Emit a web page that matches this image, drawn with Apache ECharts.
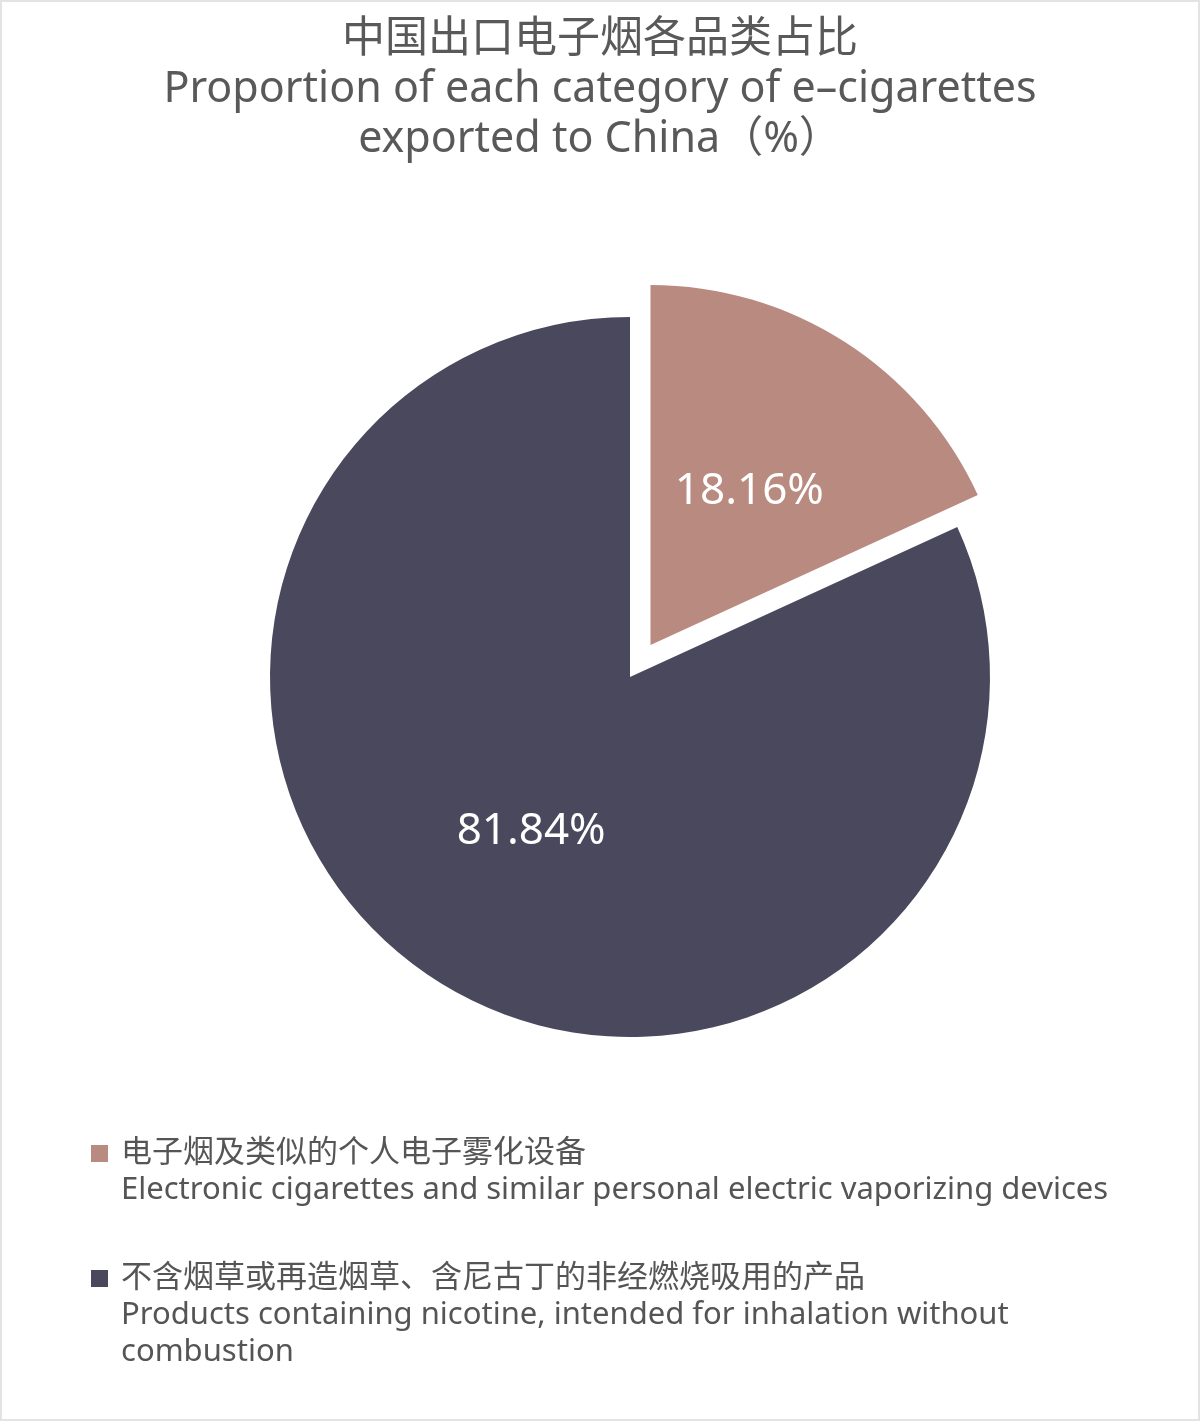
<!DOCTYPE html>
<html>
<head>
<meta charset="utf-8">
<script src="https://cdn.jsdelivr.net/npm/echarts@6/dist/echarts.min.js"></script>
<style>
    html, body { margin: 0; padding: 0; background: #fff; }
    #frame { width: 1200px; height: 1421px; box-sizing: border-box; border: 2px solid #e3e3e3; }
    #myEchart { width: 100%; height: 100%; }
</style>
</head>
<body>
<div id="frame"><div id="myEchart"></div></div>
<script>
var categoriesCn = ['电子烟及类似的个人电子雾化设备', '不含烟草或再造烟草、含尼古丁的非经燃烧吸用的产品'];
var categoriesEn = ['Electronic cigarettes and similar personal electric vaporizing devices',
    'Products containing nicotine, intended for inhalation without\ncombustion'];
var shares = [18.16, 81.84];
var colors = ['#b98a80', '#4a485c'];

var FONT = '"Noto Sans", "Noto Sans CJK SC", sans-serif';

(function() {
    var myChart = echarts.init(document.getElementById('myEchart'));

    var names = [];
    var pieData = [];
    for (var i = 0; i < shares.length; i++) {
        names[i] = categoriesCn[i] + '\n' + categoriesEn[i];
        pieData.push({
            name: names[i],
            value: shares[i],
            selected: i == 0,
            itemStyle: { color: colors[i] }
        });
    }

    // legend text is centred on the icon; pad with blank lines on top so
    // the chinese line ends up beside the square
    function legendFor(idx, top) {
        return {
            data: [{ name: names[idx], icon: 'rect' }],
            orient: 'vertical',
            left: 89,
            top: top,
            padding: 0,
            itemWidth: 17,
            itemHeight: 17,
            selectedMode: false,
            formatter: function(name) {
                var below = name.split('\n').length - 1;
                var pad = '';
                for (var k = 0; k < below; k++) pad += '\n';
                return pad + name;
            },
            textStyle: {
                fontFamily: FONT,
                fontSize: 31,
                lineHeight: 37,
                color: '#555',
                padding: [0, 0, 0, 8]
            }
        };
    }

    myChart.setOption({
        animation: false,
        title: {
            text: '中国出口电子烟各品类占比\nProportion of each category of e–cigarettes\nexported to China（%）',
            left: 'center',
            top: 8,
            textStyle: {
                fontFamily: FONT,
                fontSize: 43,
                lineHeight: 50,
                fontWeight: 'normal',
                color: '#595959'
            }
        },
        legend: [legendFor(0, 1096), legendFor(1, 1184)],
        series: [{
            type: 'pie',
            center: [628, 675],
            radius: 360,
            startAngle: 90,
            clockwise: true,
            selectedMode: 'single',
            selectedOffset: 38,
            label: {
                show: true,
                position: 'inside',
                formatter: '{c}%',
                color: '#fff',
                fontFamily: FONT,
                fontSize: 44
            },
            labelLine: { show: false },
            emphasis: { disabled: true },
            data: pieData
        }]
    });
})();
</script>
</body>
</html>
